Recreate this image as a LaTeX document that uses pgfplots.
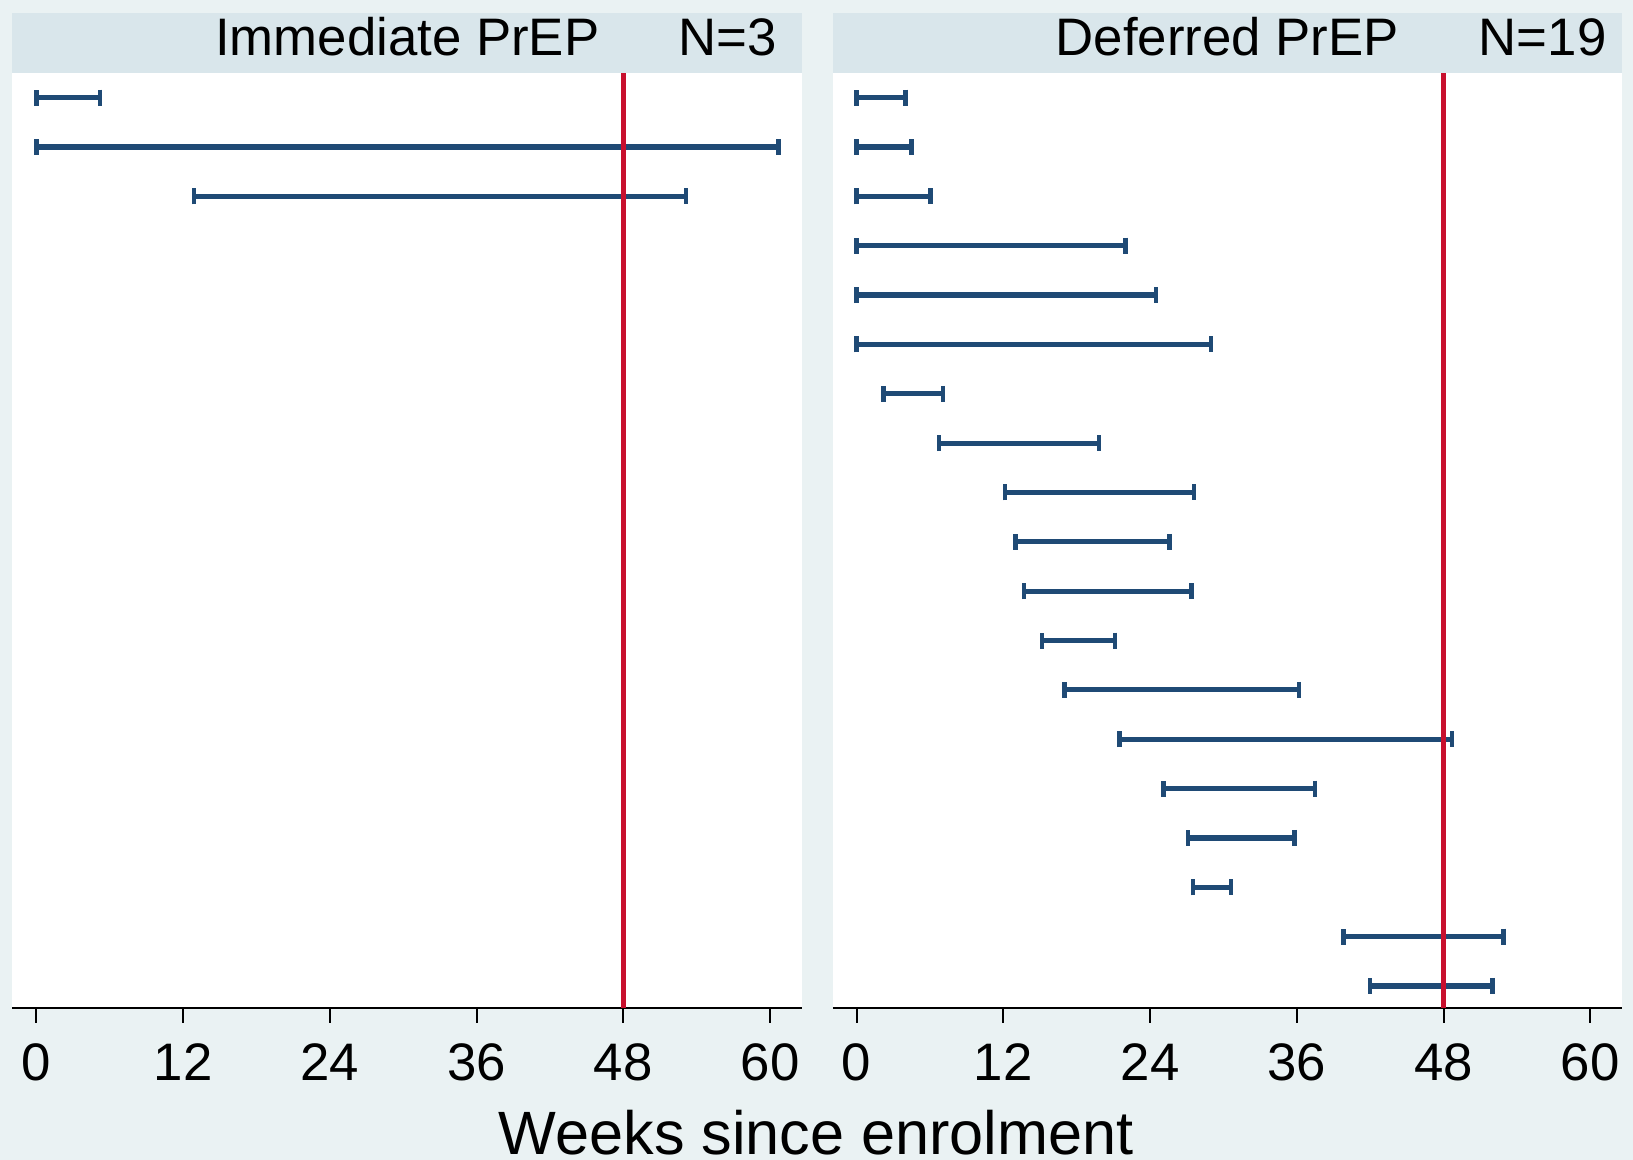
\documentclass[border=0pt]{standalone}
\usepackage{fontspec}
\setmainfont{Liberation Sans}
\usepackage{pgfplots}
\usepackage{pgfplotstable}
\pgfplotsset{compat=1.18}
\definecolor{Navy}{HTML}{1F4A75}
\definecolor{Crimson}{HTML}{C8102E}
\definecolor{Bg}{HTML}{EAF2F3}
\definecolor{Strip}{HTML}{D9E6EB}

% follow-up intervals, weeks since enrolment (row 1 = top)
\pgfplotstableread{
row lo hi
1 0 5.2
2 0 60.7
3 12.9 53.1
}\immediatetab

\pgfplotstableread{
row lo hi
1 0 4.0
2 0 4.5
3 0 6.05
4 0 22.0
5 0 24.5
6 0 29.0
7 2.2 7.05
8 6.75 19.8
9 12.15 27.6
10 13.0 25.6
11 13.7 27.4
12 15.15 21.15
13 17.0 36.2
14 21.5 48.7
15 25.1 37.5
16 27.1 35.8
17 27.5 30.6
18 39.8 52.9
19 42.0 52.0
}\deferredtab

\pgfplotsset{
  panel/.style={
    scale only axis, width=197.4pt, height=233.75pt,
    anchor=south west,
    xmin=-1.95, xmax=62.6, ymin=-19.44, ymax=-0.5,
    axis y line=none, axis x line*=bottom,
    xtick={0,12,...,60}, ytick=\empty,
    tick align=outside, major tick length=3.75pt,
    axis line style={black, line width=0.6pt, -},
    tick style={black, line width=0.5pt},
    xticklabel style={font=\fontsize{13.2}{15}\selectfont, anchor=base, yshift=-14.45pt},
    /pgf/number format/assume math mode=true,
    axis background/.style={fill=white},
    clip=false,
  },
  spans/.style={draw=none, mark=none, forget plot,
    error bars/.cd, x dir=both, x explicit,
    error mark=|,
    error bar style={draw=Navy, line width=1.3pt},
    error mark options={draw=Navy, line width=1.1pt, mark size=2pt}},
}

\newcommand{\strip}[3]{%
  \fill[Strip] (rel axis cs:0,1) rectangle ([yshift=15.1pt]rel axis cs:1,1);
  \node[anchor=base, inner sep=0pt, font=\fontsize{13.2}{15}\selectfont]
    at ([yshift=4.25pt]rel axis cs:0.5,1) {#1};
  \node[anchor=base east, inner sep=0pt, font=\fontsize{13.2}{15}\selectfont]
    at ([xshift=#3, yshift=4.25pt]rel axis cs:1,1) {#2};
}

\begin{document}
\begin{tikzpicture}
\fill[Bg] (0,0) rectangle (408.25pt,290pt);

\begin{axis}[panel, at={(3.125pt,38pt)}]
\addplot[spans] table[x expr={(\thisrow{lo}+\thisrow{hi})/2}, y expr={-\thisrow{row}},
  x error expr={(\thisrow{hi}-\thisrow{lo})/2}] {\immediatetab};
\addplot[Crimson, line width=1.4pt] coordinates {(48,-0.5) (48,-19.44)};
\strip{Immediate PrEP}{N=3}{-6pt}
\end{axis}

\begin{axis}[panel, at={(208.25pt,38pt)}]
\addplot[spans] table[x expr={(\thisrow{lo}+\thisrow{hi})/2}, y expr={-\thisrow{row}},
  x error expr={(\thisrow{hi}-\thisrow{lo})/2}] {\deferredtab};
\addplot[Crimson, line width=1.4pt] coordinates {(48,-0.5) (48,-19.44)};
\strip{Deferred PrEP}{N=19}{-3.7pt}
\end{axis}

\node[anchor=base, inner sep=0pt, font=\fontsize{15.3}{17}\selectfont]
  at (204.125pt,1.3pt) {Weeks since enrolment};
\end{tikzpicture}
\end{document}
